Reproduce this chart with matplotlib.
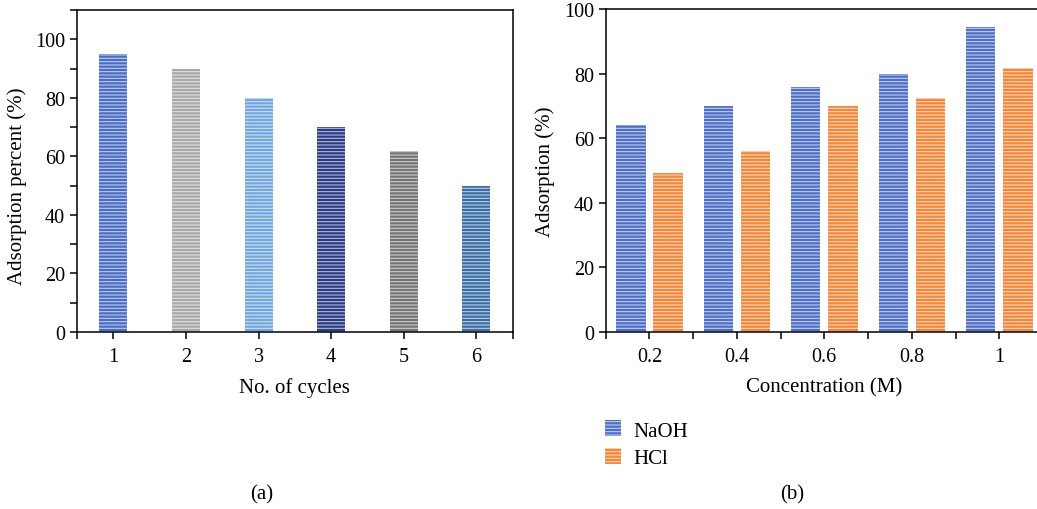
import matplotlib as mpl
mpl.use('Agg')
import matplotlib.pyplot as plt
from matplotlib import ticker
import numpy as np

plt.rcParams['font.family'] = ['Liberation Serif', 'DejaVu Serif']
plt.rcParams['font.size'] = 14.5
plt.rcParams['hatch.linewidth'] = 0.8
plt.rcParams['axes.linewidth'] = 1.1

# panel (a)
cycles = [1, 2, 3, 4, 5, 6]
cycle_pct = [95, 90, 80, 70, 62, 50]
cycle_colors = ['#4a6cc6', '#a9a9a9', '#72a6de', '#2b3c86', '#747474', '#3c6ea6']

# panel (b)
conc = [0.2, 0.4, 0.6, 0.8, 1.0]
conc_labels = ['0.2', '0.4', '0.6', '0.8', '1']
naoh = [64, 70, 76, 80, 94.5]
hcl = [49.3, 56, 70, 72.4, 81.7]
naoh_color = '#4f6fc6'
hcl_color = '#f2873a'


def striped_bar(ax, x, h, w, color, label=None):
    # white hatch lines drawn in the edge colour, edge itself has no width
    return ax.bar(x, h, w, facecolor=color, edgecolor=(1, 1, 1, 0.65),
                  linewidth=0, hatch='-----', label=label)


fig = plt.figure(figsize=(10.37, 5.10), dpi=100)

ax1 = fig.add_axes([0.0743, 0.347, 0.4201, 0.6314])
for c, v, col in zip(cycles, cycle_pct, cycle_colors):
    striped_bar(ax1, c, v, 0.385, col)
ax1.set_xlim(0.5, 6.5)
ax1.set_ylim(0, 110)
ax1.set_xticks(cycles)
ax1.set_yticks([0, 20, 40, 60, 80, 100])
ax1.yaxis.set_minor_locator(ticker.MultipleLocator(10))
ax1.xaxis.set_minor_locator(ticker.FixedLocator([0.5, 6.5]))
ax1.tick_params(which='both', direction='out', length=5, width=1.1)
ax1.tick_params(axis='x', pad=6)
ax1.set_xlabel('No. of cycles', labelpad=8, fontsize=15)
ax1.set_ylabel('Adsorption percent (%)', labelpad=6, fontsize=15)
ax1.yaxis.label.set_y(0.455)

ax2 = fig.add_axes([0.5841, 0.347, 0.4217, 0.6333])
striped_bar(ax2, np.array(conc) - 0.0425, naoh, 0.067, naoh_color, label='NaOH')
striped_bar(ax2, np.array(conc) + 0.0425, hcl, 0.067, hcl_color, label='HCl')
ax2.set_xlim(0.1, 1.1)
ax2.set_ylim(0, 100)
ax2.set_xticks(conc)
ax2.set_xticklabels(conc_labels)
ax2.xaxis.set_minor_locator(ticker.FixedLocator([0.1, 0.3, 0.5, 0.7, 0.9]))
ax2.set_yticks([0, 20, 40, 60, 80, 100])
ax2.spines['right'].set_visible(False)
ax2.tick_params(which='both', direction='out', length=5, width=1.1)
ax2.tick_params(axis='x', pad=6)
ax2.set_xlabel('Concentration (M)', labelpad=8, fontsize=15)
ax2.set_ylabel('Adsorption (%)', labelpad=6, fontsize=15)
ax2.legend(loc='upper left', bbox_to_anchor=(0.575, 0.19), bbox_transform=fig.transFigure,
           frameon=False, handlelength=0.8, handleheight=0.8, handletextpad=0.6,
           labelspacing=0.35, borderaxespad=0, fontsize=15)

fig.text(0.252, 0.03, '(a)', ha='center', va='center', fontsize=15)
fig.text(0.764, 0.03, '(b)', ha='center', va='center', fontsize=15)

fig.savefig('out.png', dpi=100)
plt.close()
